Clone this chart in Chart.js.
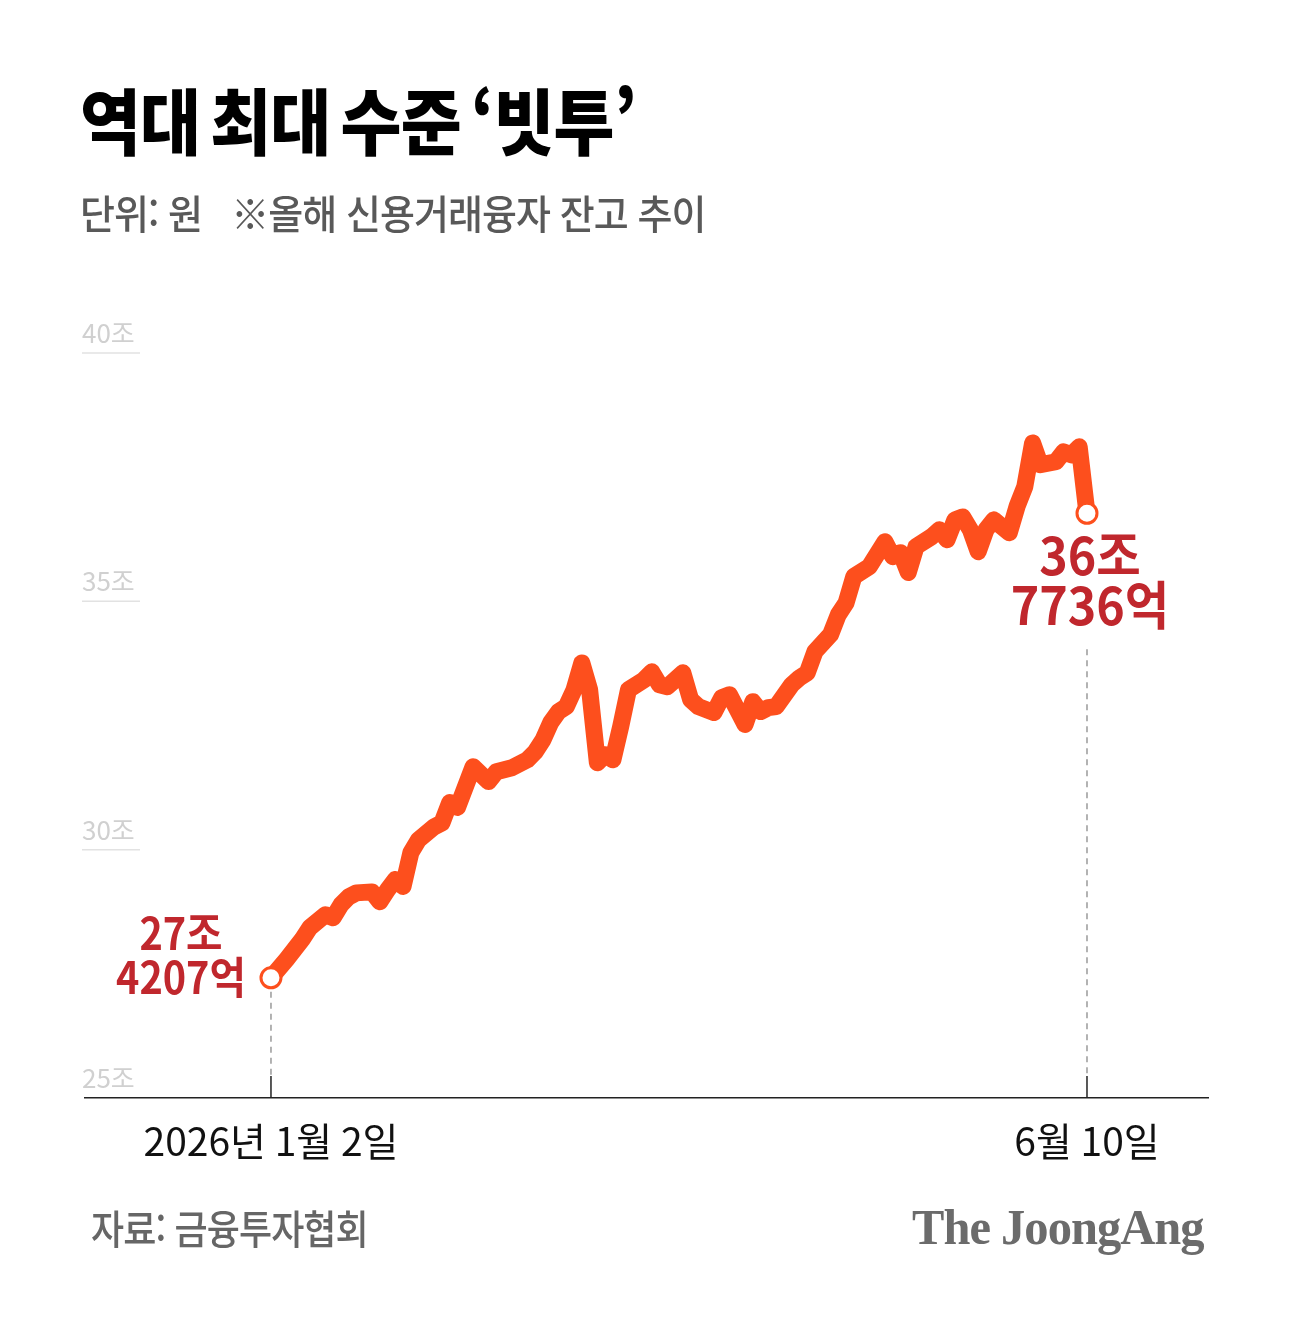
<!DOCTYPE html>
<html lang="ko">
<head>
<meta charset="utf-8">
<title>역대 최대 수준 '빗투'</title>
<script src="https://cdn.jsdelivr.net/npm/chart.js@4.4.1/dist/chart.umd.min.js"></script>
<style>
  html, body { margin: 0; padding: 0; background: #fff; }
  body { width: 1292px; height: 1319px; position: relative; overflow: hidden; font-family: "Noto Sans CJK KR", sans-serif; }
  #wrap { position: absolute; left: 0; top: 0; width: 1292px; height: 1319px; }
  .txt { position: absolute; white-space: nowrap; transform-origin: left top; line-height: 1; }
  #title { left: 80px; top: 82px; font-size: 72px; font-weight: 900; color: #000; transform: scaleX(0.92); letter-spacing: -1px; word-spacing: -8px; }
  #sub { left: 80px; top: 192px; font-size: 40px; font-weight: 500; color: #595959; transform: scaleX(0.95); letter-spacing: -1px; }
  #source { left: 91px; top: 1207px; font-size: 40px; font-weight: 500; color: #666; transform: scaleX(0.9); letter-spacing: -1px; }
  #logo { left: 912px; top: 1202px; font-family: "Liberation Serif", serif; font-size: 50px; font-weight: 700; color: #6b6b6b; transform: scaleX(0.97); letter-spacing: -1px; }
</style>
</head>
<body>
<div id="wrap"><canvas id="chart"></canvas></div>
<div class="txt" id="title">역대 최대 수준 ‘빗투’</div>
<div class="txt" id="sub">단위: 원 &nbsp;&nbsp;※올해 신용거래융자 잔고 추이</div>
<div class="txt" id="source">자료: 금융투자협회</div>
<div class="txt" id="logo">The JoongAng</div>
<script>
// 신용거래융자 잔고 (조 원), x = 2026년 거래일 순번 (0 = 1월 2일)
const tradingDay = [0, 2, 3, 4, 5, 7, 8, 9, 10, 11, 13, 14, 15, 16, 17, 18, 19, 21, 22, 23, 24,
  26, 28, 29, 31, 33, 34, 35, 36, 37, 38, 39, 40, 41, 42, 43, 44, 45, 46, 48, 49, 50, 51,
  53, 54, 55, 57, 58, 59, 60, 61, 62, 63, 64, 65, 67, 68, 69, 70, 72, 73, 74, 75, 77,
  79, 80, 81, 82, 83, 85, 86, 87, 88, 89, 90, 91, 92, 93, 95, 96, 97, 98, 99, 101, 102,
  103, 104, 105];
const balance = [27.4207, 27.79, 27.99, 28.19, 28.43, 28.69, 28.63, 28.89, 29.05, 29.13, 29.15, 28.95,
  29.19, 29.40, 29.26, 29.94, 30.20, 30.46, 30.54, 30.95, 30.85,
  31.67, 31.37, 31.57, 31.65, 31.81, 31.97, 32.21, 32.56, 32.78, 32.88, 33.22, 33.76, 33.22,
  31.75, 31.91, 31.81, 32.48, 33.22, 33.42, 33.58, 33.32, 33.28,
  33.56, 33.02, 32.88, 32.76, 33.06, 33.12, 32.82, 32.52, 32.98, 32.78, 32.86, 32.88,
  33.32, 33.46, 33.56, 33.99, 34.33, 34.73, 34.97, 35.50, 35.70,
  36.20, 35.90, 35.98, 35.58, 36.10, 36.30, 36.44, 36.24, 36.64, 36.70, 36.44, 36.00,
  36.44, 36.64, 36.38, 36.91, 37.31, 38.19, 37.75, 37.81, 38.01, 37.95, 38.11, 36.7736];
const xTickValues = [0, 105];
const xTickLabels = ['2026년 1월 2일', '6월 10일'];
const yTicks = [25, 30, 35, 40];

const LINE = '#fd4f1d';
const RED = '#c0272d';

function won(v) {
  const jo = Math.floor(v);
  const eok = Math.round((v - jo) * 10000);
  return [jo + '조', eok + '억'];
}

const decor = {
  id: 'decor',
  beforeDraw(chart) {
    const ctx = chart.ctx, y = chart.scales.y, area = chart.chartArea;
    ctx.save();
    ctx.strokeStyle = '#e2e2e2';
    ctx.lineWidth = 1.5;
    yTicks.forEach(v => {
      if (v === y.min) return;
      const py = y.getPixelForValue(v);
      ctx.beginPath();
      ctx.moveTo(area.left - 3, py);
      ctx.lineTo(area.left + 55, py);
      ctx.stroke();
    });
    ctx.restore();
  },
  beforeDatasetsDraw(chart) {
    const ctx = chart.ctx, x = chart.scales.x, area = chart.chartArea;
    const pts = chart.getDatasetMeta(0).data;
    const ends = [
      { px: x.getPixelForValue(xTickValues[0]), from: pts[0].y + 14 },
      { px: x.getPixelForValue(xTickValues[1]), from: pts[pts.length - 1].y + 136 }
    ];
    ctx.save();
    ends.forEach(e => {
      ctx.strokeStyle = '#9a9a9a';
      ctx.lineWidth = 1.5;
      ctx.setLineDash([6, 5]);
      ctx.beginPath();
      ctx.moveTo(e.px, e.from);
      ctx.lineTo(e.px, area.bottom - 22);
      ctx.stroke();
      ctx.setLineDash([]);
      ctx.strokeStyle = '#222';
      ctx.beginPath();
      ctx.moveTo(e.px, area.bottom - 22);
      ctx.lineTo(e.px, area.bottom);
      ctx.stroke();
    });
    ctx.restore();
  },
  afterDatasetsDraw(chart) {
    const ctx = chart.ctx;
    const pts = chart.getDatasetMeta(0).data;
    const first = pts[0], last = pts[pts.length - 1];
    const drawLines = (lines, cx, cy, size, gap, sx) => {
      ctx.save();
      ctx.fillStyle = RED;
      ctx.font = '700 ' + size + 'px "Noto Sans CJK KR", sans-serif';
      ctx.textAlign = 'center';
      ctx.textBaseline = 'middle';
      lines.forEach((t, i) => {
        ctx.save();
        ctx.translate(cx, cy + i * gap);
        ctx.scale(sx, 1);
        ctx.fillText(t, 0, 0);
        ctx.restore();
      });
      ctx.restore();
    };
    drawLines(won(balance[0]), first.x - 90, first.y - 44, 44, 44, 0.9);
    drawLines(won(balance[balance.length - 1]), last.x + 3, last.y + 42, 52, 50, 0.93);
  }
};

new Chart(document.getElementById('chart'), {
  type: 'line',
  data: {
    datasets: [{
      data: tradingDay.map((d, i) => ({ x: d, y: balance[i] })),
      borderColor: LINE,
      borderWidth: 17,
      borderJoinStyle: 'round',
      borderCapStyle: 'round',
      tension: 0,
      pointRadius: c => (c.dataIndex === 0 || c.dataIndex === balance.length - 1) ? 10 : 0,
      pointBackgroundColor: '#fff',
      pointBorderColor: LINE,
      pointBorderWidth: 3,
      clip: false
    }]
  },
  options: {
    responsive: true,
    maintainAspectRatio: false,
    animation: false,
    layout: { padding: { left: 85, right: 84, top: 353, bottom: 141 } },
    plugins: { legend: { display: false }, tooltip: { enabled: false } },
    scales: {
      x: {
        type: 'linear',
        min: -23.93,
        max: 120.57,
        afterBuildTicks: s => { s.ticks = xTickValues.map(v => ({ value: v })); },
        afterFit: s => { s.height = 80; },
        grid: { display: false },
        border: { display: true, color: '#222', width: 1.5 },
        ticks: {
          autoSkip: false,
          maxRotation: 0,
          padding: 12,
          color: '#111',
          font: { family: '"Noto Sans CJK KR", sans-serif', size: 39 },
          callback: v => xTickLabels[xTickValues.indexOf(v)]
        }
      },
      y: {
        min: 25,
        max: 40,
        afterBuildTicks: s => { s.ticks = yTicks.map(v => ({ value: v })); },
        afterFit: s => { s.width = 0; },
        grid: { display: false },
        border: { display: false },
        ticks: {
          mirror: true,
          padding: -3,
          labelOffset: -20,
          color: '#d0d0d0',
          font: { family: '"Noto Sans CJK KR", sans-serif', size: 26 },
          callback: v => v + '조'
        }
      }
    }
  },
  plugins: [decor]
});
</script>
</body>
</html>
